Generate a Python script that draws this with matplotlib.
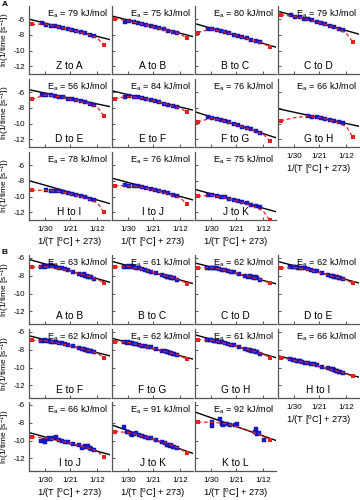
import matplotlib
matplotlib.use('Agg')
import matplotlib.pyplot as plt
import numpy as np

plt.rcParams['font.family'] = ['Liberation Sans', 'DejaVu Sans']
plt.rcParams['mathtext.fontset'] = 'custom'
plt.rcParams['mathtext.rm'] = 'Liberation Sans'
plt.rcParams['mathtext.it'] = 'Liberation Sans'

# ---------------- data ----------------
tick_temps = [30, 21, 12]
tick_labels = ['1/30', '1/21', '1/12']
red_temps = [35, 30, 25, 20, 15, 12, 10]

# Panel A
A_names = ['Z to A', 'A to B', 'B to C', 'C to D', 'D to E', 'E to F', 'F to G',
           'G to H', 'H to I', 'I to J', 'J to K']
A_ea = [79, 75, 80, 79, 56, 84, 76, 66, 78, 76, 75]
A_line30 = [-6.5, -6.1, -7.15, -5.55, -6.1, -6.3, -9.15, -8.55, -8.55, -8.2, -9.65]
A_line12 = [-8.2, -7.8, -9.1, -7.45, -7.5, -7.9, -11.3, -10.0, -10.45, -10.0, -11.5]
A_red = [
    [-6.65, -6.6, -7.0, -7.45, -7.95, -8.4, -9.3],
    [-5.9, -6.2, -6.6, -7.1, -7.6, -7.9, -8.4],
    [-7.7, -7.25, -7.65, -8.2, -8.75, -9.1, -9.55],
    [-5.45, -5.6, -6.05, -6.55, -7.2, -7.8, -8.9],
    [-6.9, -6.35, -6.55, -6.95, -7.45, -7.9, -9.0],
    [-6.8, -6.55, -6.75, -7.2, -7.7, -8.05, -8.5],
    [-9.8, -9.3, -9.7, -10.3, -10.95, -11.4, -12.2],
    [-9.65, -9.25, -9.05, -9.3, -9.85, -10.4, -11.7],
    [-9.2, -9.2, -9.35, -9.75, -10.3, -10.8, -12.0],
    [-8.6, -8.6, -8.8, -9.25, -9.8, -10.2, -10.9],
    [-9.95, -9.85, -10.15, -10.7, -11.3, -11.9, -13.0],
]
A_blue_temps = [31, 29.5, 28, 26.5, 25, 23.5, 22, 20.5, 19, 17.5, 16, 14.5, 13]
A_blue = [
    [-6.5, -6.7, -6.8, -6.9, -7.0, -7.15, -7.3, -7.4, -7.5, -7.65, -7.8, -7.95, -8.15],
    [-6.4, -6.25, -6.35, -6.5, -6.6, -6.75, -6.9, -7.0, -7.15, -7.3, -7.45, -7.6, -7.75],
    [-7.3, -7.25, -7.4, -7.55, -7.65, -7.8, -7.95, -8.1, -8.3, -8.45, -8.6, -8.8, -8.95],
    [-5.5, -5.65, -5.75, -5.9, -6.0, -6.15, -6.3, -6.45, -6.65, -6.8, -6.95, -7.2, -7.4],
    [-6.3, -6.3, -6.4, -6.5, -6.55, -6.65, -6.8, -6.9, -7.0, -7.15, -7.3, -7.45, -7.6],
    [-6.6, -6.5, -6.6, -6.65, -6.75, -6.85, -7.0, -7.15, -7.3, -7.45, -7.6, -7.75, -7.9],
    [-9.2, -9.3, -9.45, -9.6, -9.7, -9.85, -10.05, -10.2, -10.4, -10.55, -10.75, -10.95, -11.15],
    [np.nan, np.nan, np.nan, np.nan, -9.0, -9.1, -9.2, -9.3, -9.4, -9.5, -9.65, -9.8, -9.95],
    [np.nan, -9.2, -9.25, -9.3, -9.35, -9.45, -9.6, -9.7, -9.85, -9.95, -10.1, -10.25, -10.5],
    [-8.55, -8.6, -8.6, -8.7, -8.75, -8.85, -9.0, -9.15, -9.3, -9.45, -9.6, -9.8, -9.95],
    [-9.85, -9.85, -9.9, -10.0, -10.1, -10.25, -10.4, -10.55, -10.7, -10.85, -11.05, -11.2, -11.4],
]

# Panel B
B_names = ['A to B', 'B to C', 'C to D', 'D to E', 'E to F', 'F to G', 'G to H',
           'H to I', 'I to J', 'J to K', 'K to L']
B_ea = [63, 61, 62, 62, 62, 62, 61, 66, 66, 91, 92]
B_line30 = [-6.7, -6.9, -7.05, -6.9, -6.9, -7.2, -6.85, -9.15, -9.6, -8.9, -7.45]
B_line12 = [-8.35, -8.5, -8.55, -8.45, -8.35, -8.7, -8.5, -10.7, -11.2, -10.95, -9.5]
B_red = [
    [-7.05, -7.0, -7.2, -7.6, -8.05, -8.4, -8.85],
    [-7.05, -7.0, -7.3, -7.7, -8.2, -8.5, -8.9],
    [-7.15, -7.1, -7.4, -7.8, -8.25, -8.55, -8.85],
    [-7.15, -7.1, -7.35, -7.75, -8.2, -8.5, -8.85],
    [-6.95, -7.0, -7.3, -7.65, -8.1, -8.4, -8.9],
    [-7.1, -7.2, -7.55, -7.95, -8.4, -8.7, -9.1],
    [-6.9, -6.95, -7.3, -7.7, -8.2, -8.5, -8.9],
    [-8.9, -9.2, -9.5, -9.95, -10.4, -10.7, -11.0],
    [-9.6, -9.7, -10.0, -10.4, -10.85, -11.2, -11.85],
    [-9.0, -9.1, -9.5, -9.95, -10.5, -10.95, -11.4],
    [-7.95, -7.95, -8.1, -8.55, -9.1, -9.55, -9.9],
]
B_blue_temps = [31.5, 30.5, 30, 29, 28.5, 28, 27, 26, 25, 24, 23, 22, 20, 18, 17,
                16.5, 16, 15.5, 15, 14.5, 14, 13]
B_blue = [
    [-7.05, -6.95, -7.0, -6.9, -6.95, -6.85, -6.95, -7.0, -7.15, -7.2, -7.3, -7.4, -7.55,
     -7.8, -7.95, -7.85, -8.05, -8.0, -8.1, -8.2, -8.15, -8.35],
    [-7.05, -7.0, -6.95, -7.0, -6.95, -7.05, -7.1, -7.2, -7.3, -7.35, -7.5, -7.55, -7.75,
     -7.95, -8.05, -8.1, -8.15, -8.2, -8.25, -8.3, -8.3, -8.45],
    [-7.1, -7.15, -7.1, -7.15, -7.2, -7.2, -7.3, -7.35, -7.4, -7.5, -7.55, -7.65, -7.85,
     -8.0, -8.1, -8.05, -8.15, -8.2, -8.25, -8.2, -8.3, -8.45],
    [-7.0, -7.05, -7.0, -7.05, -7.1, -7.1, -7.15, -7.2, -7.3, -7.35, -7.45, -7.5, -7.7,
     -7.9, -8.0, -8.05, -8.1, -8.1, -8.2, -8.25, -8.3, -8.4],
    [-7.0, -7.0, -6.95, -7.0, -7.05, -7.1, -7.1, -7.2, -7.25, -7.3, -7.4, -7.45, -7.65,
     -7.8, -7.9, -7.95, -8.0, -8.05, -8.1, -8.15, -8.15, -8.3],
    [-7.2, -7.25, -7.2, -7.3, -7.3, -7.35, -7.4, -7.5, -7.55, -7.6, -7.7, -7.75, -7.95,
     -8.1, -8.2, -8.25, -8.3, -8.35, -8.4, -8.45, -8.5, -8.6],
    [-6.9, -6.95, -6.9, -7.0, -7.0, -7.05, -7.1, -7.2, -7.3, -7.35, -7.45, -7.5, -7.75,
     -7.9, -8.0, -8.05, -8.1, -8.2, -8.2, -8.25, -8.3, -8.45],
    [-9.1, -9.15, -9.2, -9.25, -9.3, -9.3, -9.4, -9.45, -9.5, -9.6, -9.65, -9.75, -9.9,
     -10.1, -10.2, -10.2, -10.3, -10.35, -10.4, -10.45, -10.5, -10.6],
    [-10.1, -9.9, -10.15, -9.8, -9.7, -9.85, -9.75, -9.6, -9.9, -10.0, -10.15, -10.2, -10.35,
     -10.55, -10.8, -10.75, -10.6, -10.7, -10.65, -10.85, -11.0, -11.1],
    [-8.45, -9.05, -9.0, -9.3, -9.35, -9.25, -9.2, -9.4, -9.45, -9.6, -9.7, -9.75, -9.95,
     -10.2, -10.3, -10.5, -10.45, -10.6, -10.55, -10.7, -10.75, -10.85],
    None,
]
KL_blue_temps = [29.6, 29.5, 26.8, 26.1, 25.7, 24.4, 23.3, 21.6, 20.9, 14.9, 14.3, 14.2, 13.3, 11.7]
KL_blue = [-7.9, -8.35, -7.6, -8.1, -8.3, -8.15, -8.25, -8.25, -8.2, -9.0, -8.75, -9.3, -9.15, -9.95]

# ---------------- layout ----------------
W, H = 360, 500
fig = plt.figure(figsize=(3.6, 5.0), dpi=100)
col_left = [29, 112, 195, 278]
ax_w = 81
A_tops = [6, 79, 152]
B_tops = [255, 329, 402]
A_h, B_h = 68, 69

def inv(t):
    return 1.0 / (np.asarray(t, dtype=float) + 273.0)

SP_COLOR = '#555555'

def make_panel(top, h, col, name, ea, l30, l12, red, btemps, bvals, ylim,
               show_y, show_x):
    ax = fig.add_axes([col_left[col] / W, 1 - (top + h) / H, ax_w / W, h / H])
    ax.set_xlim(inv(36), inv(8))
    ax.set_ylim(*ylim)
    for s in ['top', 'right']:
        ax.spines[s].set_visible(False)
    for s in ['left', 'bottom']:
        ax.spines[s].set_color(SP_COLOR)
        ax.spines[s].set_linewidth(0.9)
    ax.set_xticks(inv(tick_temps))
    ax.set_yticks([-6, -8, -10, -12])
    ax.tick_params(direction='in', length=2.5, width=0.7, color=SP_COLOR,
                   labelsize=5.8)
    ax.tick_params(axis='y', pad=3)
    ax.tick_params(axis='x', pad=4)
    if show_y:
        ax.set_yticklabels(['-6', '-8', '-10', '-12'])
        ax.set_ylabel('ln(1/time [s$^{-1}$])', fontsize=6.0)
        ax.yaxis.set_label_coords(-0.205, 0.5)
    else:
        ax.set_yticklabels([])
    if show_x:
        ax.set_xticklabels(tick_labels)
        ax.set_xlabel('1/(T [$^{\\mathrm{o}}$C] + 273)', fontsize=6.7, labelpad=2)
    else:
        ax.set_xticklabels([])
    # black linear fit
    ax.axline((inv(30), l30), (inv(12), l12), color='black', lw=1.0, zorder=2)
    # blue data
    ax.plot(inv(btemps), bvals, 's', color='#1818d8', ms=2.8, mec='#101070',
            mew=0.3, zorder=3)
    # red dashed fit with end points
    ax.plot(inv(red_temps), red, '--', color='#e82020', lw=0.9, dashes=(3, 2), zorder=4)
    ax.plot(inv([red_temps[0], red_temps[-1]]), [red[0], red[-1]], 's',
            color='#e82020', ms=3, mew=0, zorder=4)
    ax.text(0.97, 0.985, '$\\mathrm{E}_{\\mathrm{a}}$ = %d kJ/mol' % ea,
            transform=ax.transAxes, ha='right', va='top', fontsize=6.6)
    ax.text(0.5, 0.05, name, transform=ax.transAxes, ha='center', va='bottom',
            fontsize=7.3)
    return ax

for i in range(11):
    r, c = divmod(i, 4)
    show_x = (r == 2) or (r == 1 and c == 3)
    make_panel(A_tops[r], A_h, c, A_names[i], A_ea[i], A_line30[i], A_line12[i],
               A_red[i], A_blue_temps, A_blue[i], (-13.0, -4.3), c == 0, show_x)

for i in range(11):
    r, c = divmod(i, 4)
    show_x = (r == 2) or (r == 1 and c == 3)
    bt = B_blue_temps if B_blue[i] is not None else KL_blue_temps
    bv = B_blue[i] if B_blue[i] is not None else KL_blue
    make_panel(B_tops[r], B_h, c, B_names[i], B_ea[i], B_line30[i], B_line12[i],
               B_red[i], bt, bv, (-13.4, -5.7), c == 0, show_x)

fig.text(2 / W, 1 - 0.5 / H, 'A', fontsize=6, fontweight='bold', va='top', ha='left')
fig.text(2 / W, 1 - 249 / H, 'B', fontsize=6, fontweight='bold', va='top', ha='left')

fig.savefig('out.png', dpi=100)
